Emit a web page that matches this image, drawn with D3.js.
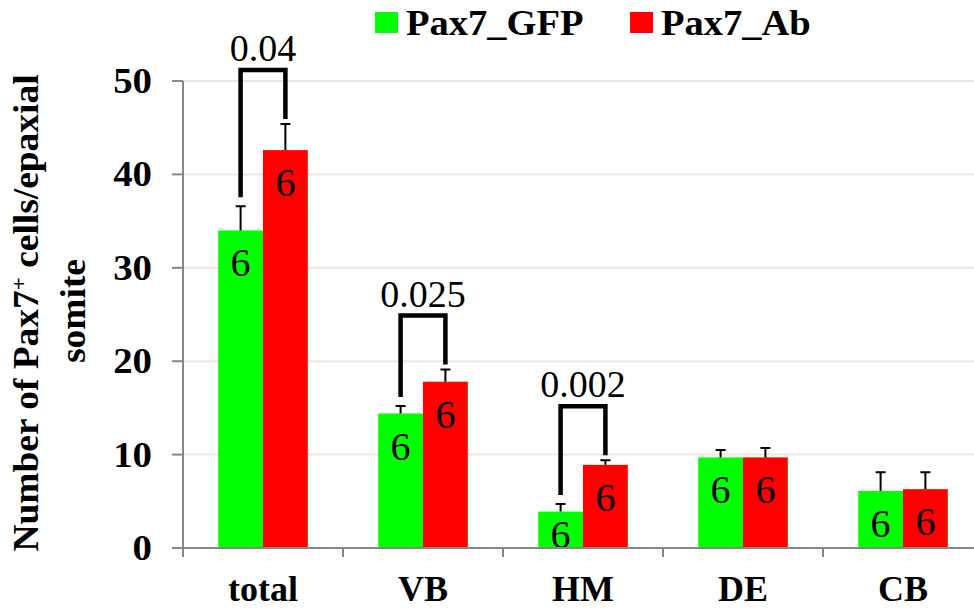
<!DOCTYPE html>
<html>
<head>
<meta charset="utf-8">
<script src="https://cdn.jsdelivr.net/npm/d3@7"></script>
<style>
  body { margin: 0; background: #fff; }
  svg text { font-family: "Liberation Serif", "DejaVu Serif", serif; }
</style>
</head>
<body>
<div id="chart"></div>
<script>
// data
var categories = ["total", "VB", "HM", "DE", "CB"];
var seriesNames = ["Pax7_GFP", "Pax7_Ab"];
var gfpMean = [34.0, 14.4, 3.9, 9.7, 6.1];
var gfpErr = [2.6, 0.8, 0.8, 0.8, 2.0];
var abMean = [42.6, 17.8, 8.9, 9.7, 6.3];
var abErr = [2.8, 1.3, 0.5, 1.0, 1.8];
var gfpN = [6, 6, 6, 6, 6];
var abN = [6, 6, 6, 6, 6];
var pCats = ["total", "VB", "HM"];
var pLabels = ["0.04", "0.025", "0.002"];
var yTicks = [0, 10, 20, 30, 40, 50];
var colors = ["#00ff00", "#ff0000"];

var width = 974, height = 609;
var margin = {top: 81, left: 183, bottom: 61};
var plotBottom = height - margin.bottom;
var serif = "Liberation Serif, DejaVu Serif, serif";

var svg = d3.select("#chart").append("svg")
  .attr("width", width)
  .attr("height", height)
  .attr("font-family", serif);

var x = d3.scaleBand().domain(categories).range([margin.left, margin.left + 800]);
var bw = x.bandwidth();
var x1 = d3.scaleBand().domain(seriesNames).range([bw * 0.22, bw * 0.78]);
var y = d3.scaleLinear().domain([0, 50]).range([plotBottom, margin.top]);

// rows per category
var rows = categories.map(function(c, i) {
  return {
    cat: c,
    vals: [
      {s: seriesNames[0], v: gfpMean[i], e: gfpErr[i], n: gfpN[i], col: colors[0]},
      {s: seriesNames[1], v: abMean[i], e: abErr[i], n: abN[i], col: colors[1]}
    ]
  };
});

// gridlines
svg.append("g").selectAll("line")
  .data(yTicks.filter(function(t) { return t > 0; }))
  .join("line")
  .attr("x1", margin.left).attr("x2", width)
  .attr("y1", function(d) { return y(d); })
  .attr("y2", function(d) { return y(d); })
  .attr("stroke", "#ebe7dc")
  .attr("stroke-width", 2);

// bars
var groups = svg.append("g").selectAll("g")
  .data(rows)
  .join("g")
  .attr("transform", function(d) { return "translate(" + x(d.cat) + ",0)"; });

groups.selectAll("rect")
  .data(function(d) { return d.vals; })
  .join("rect")
  .attr("x", function(d) { return x1(d.s); })
  .attr("width", x1.bandwidth())
  .attr("y", function(d) { return y(d.v); })
  .attr("height", function(d) { return plotBottom - y(d.v); })
  .attr("fill", function(d) { return d.col; });

// error bars (upper only)
groups.selectAll("path.err")
  .data(function(d) { return d.vals; })
  .join("path")
  .attr("class", "err")
  .attr("d", function(d) {
    var cx = x1(d.s) + x1.bandwidth() / 2;
    var t = y(d.v + d.e);
    return "M" + cx + "," + y(d.v) + "V" + t + "M" + (cx - 5) + "," + t + "H" + (cx + 5);
  })
  .attr("stroke", "#000")
  .attr("stroke-width", 2)
  .attr("fill", "none");

// n labels
groups.selectAll("text.n")
  .data(function(d) { return d.vals; })
  .join("text")
  .attr("class", "n")
  .attr("x", function(d) { return x1(d.s) + x1.bandwidth() / 2; })
  .attr("y", function(d) { return Math.min(y(d.v) + 46, plotBottom); })
  .attr("text-anchor", "middle")
  .attr("font-size", 40)
  .text(function(d) { return d.n; });

// significance brackets
pCats.forEach(function(c, k) {
  var i = categories.indexOf(c);
  var lx = x(c) + x1(seriesNames[0]) + x1.bandwidth() / 2;
  var rx = x(c) + x1(seriesNames[1]) + x1.bandwidth() / 2;
  var lTop = y(gfpMean[i] + gfpErr[i]);
  var rTop = y(abMean[i] + abErr[i]);
  var top = Math.min(lTop, rTop) - 54;
  svg.append("path")
    .attr("d", "M" + lx + "," + (lTop - 9) + "V" + top + "H" + rx + "V" + (rTop - 5))
    .attr("stroke", "#000")
    .attr("stroke-width", 4.5)
    .attr("fill", "none");
  svg.append("text")
    .attr("x", (lx + rx) / 2)
    .attr("y", top - 9)
    .attr("text-anchor", "middle")
    .attr("font-size", 38)
    .text(pLabels[k]);
});

// y axis
var axisCol = "#878787";
svg.append("line")
  .attr("x1", margin.left).attr("x2", margin.left)
  .attr("y1", y(50)).attr("y2", plotBottom + 9)
  .attr("stroke", axisCol).attr("stroke-width", 2);
svg.append("g").selectAll("line")
  .data(yTicks)
  .join("line")
  .attr("x1", margin.left - 11).attr("x2", margin.left)
  .attr("y1", function(d) { return y(d); })
  .attr("y2", function(d) { return y(d); })
  .attr("stroke", axisCol).attr("stroke-width", 2);
svg.append("g").selectAll("text")
  .data(yTicks)
  .join("text")
  .attr("transform", function(d) { return "translate(152," + (y(d) + 12) + ") scale(1.08,1)"; })
  .attr("text-anchor", "end")
  .attr("font-size", 36)
  .attr("font-weight", "bold")
  .text(function(d) { return d; });

// x axis
svg.append("line")
  .attr("x1", margin.left).attr("x2", width)
  .attr("y1", plotBottom).attr("y2", plotBottom)
  .attr("stroke", axisCol).attr("stroke-width", 2);
svg.append("g").selectAll("line")
  .data(categories)
  .join("line")
  .attr("x1", function(d) { return x(d); })
  .attr("x2", function(d) { return x(d); })
  .attr("y1", plotBottom).attr("y2", plotBottom + 9)
  .attr("stroke", axisCol).attr("stroke-width", 2);
svg.append("g").selectAll("text")
  .data(categories)
  .join("text")
  .attr("x", function(d) { return x(d) + bw / 2; })
  .attr("y", 601)
  .attr("text-anchor", "middle")
  .attr("font-size", 36)
  .attr("font-weight", "bold")
  .text(function(d) { return d; });

// y axis title
var title = svg.append("text")
  .attr("transform", "translate(38,313) rotate(-90) scale(1.04,1)")
  .attr("text-anchor", "middle")
  .attr("font-size", 36)
  .attr("font-weight", "bold");
title.append("tspan").text("Number of Pax7");
title.append("tspan").attr("baseline-shift", "super").attr("font-size", 22).text("+");
title.append("tspan").text(" cells/epaxial");
svg.append("text")
  .attr("transform", "translate(85,311) rotate(-90) scale(1.04,1)")
  .attr("text-anchor", "middle")
  .attr("font-size", 36)
  .attr("font-weight", "bold")
  .text("somite");

// legend
var legendX = [375, 630];
var legend = svg.append("g").selectAll("g")
  .data(seriesNames)
  .join("g")
  .attr("transform", function(d, i) { return "translate(" + legendX[i] + ",12)"; });
legend.append("rect")
  .attr("width", 23).attr("height", 21)
  .attr("fill", function(d, i) { return colors[i]; });
legend.append("text")
  .attr("transform", "translate(31,23) scale(1.07,1)")
  .attr("font-size", 36)
  .attr("font-weight", "bold")
  .text(function(d) { return d; });
</script>
</body>
</html>
